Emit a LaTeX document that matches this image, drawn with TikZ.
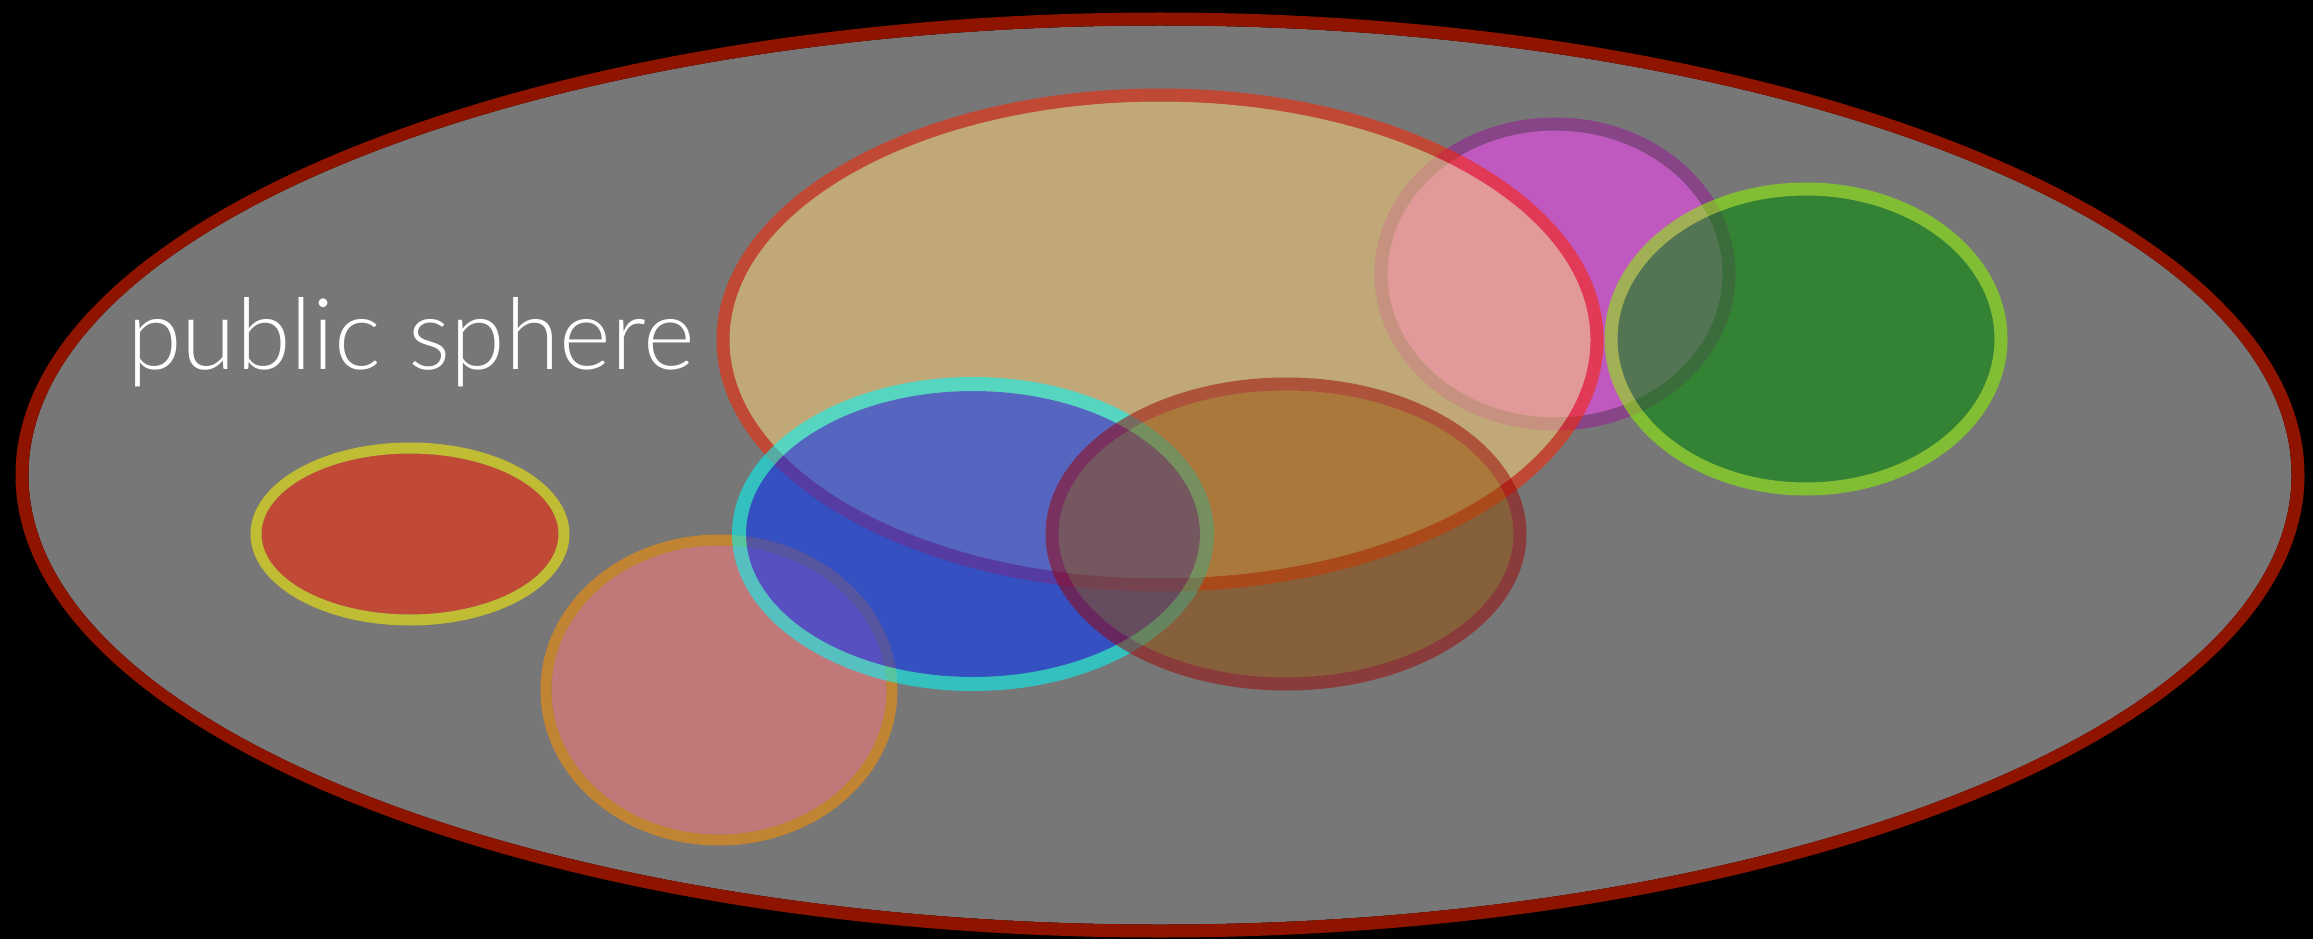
\documentclass[tikz,border=0pt]{standalone}
\usepackage{fontspec}
\setmainfont{Lato}
\newfontfamily\lightfont{Lato}[UprightFont={* Light}]
\definecolor{bgout}{HTML}{777777}
\definecolor{outerstroke}{HTML}{8E1400}
\definecolor{redfill}{HTML}{C04A35}
\definecolor{yellowstroke}{HTML}{C0BC34}
\definecolor{pinkfill}{HTML}{C07878}
\definecolor{orangestroke}{HTML}{C08432}
\definecolor{magfill}{HTML}{BF58BF}
\definecolor{magstroke}{HTML}{874587}
\definecolor{tanfill}{HTML}{FED279}
\definecolor{tanstroke}{HTML}{FF2200}
\definecolor{bluefill}{HTML}{0030FC}
\definecolor{bluestroke}{HTML}{00FCFC}
\definecolor{brownfill}{HTML}{954900}
\definecolor{brownstroke}{HTML}{9D0000}
\definecolor{greenfill}{HTML}{008C00}
\definecolor{greenstroke}{HTML}{8BF601}
% #1 centre, #2 rx, #3 ry, #4 line width, #5 fill, #6 stroke, #7 opacity
\newcommand\myblob[7]{%
  \fill[#5, opacity=#7] (#1) ellipse [x radius=#2-#4/2, y radius=#3-#4/2];
  \fill[#6, opacity=#7, even odd rule] (#1) ellipse [x radius=#2+#4/2, y radius=#3+#4/2]
        (#1) ellipse [x radius=#2-#4/2, y radius=#3-#4/2];
}
\begin{document}
\begin{tikzpicture}[x=1pt,y=-1pt,
  label text/.style={text=white, inner sep=0pt, anchor=base west, font=\lightfont\fontsize{99}{100}\selectfont}]
\useasboundingbox (0,0) rectangle (2313,939);
\fill[black] (0,0) rectangle (2313,939);
\coordinate (sphere) at (1160,475);
\coordinate (red) at (410,534);
\coordinate (pink) at (719,690);
\coordinate (mag) at (1555,274);
\coordinate (tan) at (1160,340);
\coordinate (blue) at (973,534);
\coordinate (brown) at (1286,534);
\coordinate (green) at (1806,339);
\myblob{sphere}{1138}{456}{13}{bgout}{outerstroke}{1}
\node[label text] (ps) at (127,369) {public sphere};
\myblob{red}{154}{86}{11}{redfill}{yellowstroke}{1}
\myblob{pink}{173}{150}{11}{pinkfill}{orangestroke}{1}
\myblob{mag}{174}{150}{13}{magfill}{magstroke}{1}
\myblob{tan}{437}{245}{13}{tanfill}{tanstroke}{0.54}
\myblob{blue}{234}{150}{14}{bluefill}{bluestroke}{0.55}
\myblob{brown}{234}{150}{13}{brownfill}{brownstroke}{0.5}
\myblob{green}{195}{150}{13}{greenfill}{greenstroke}{0.56}
\end{tikzpicture}
\end{document}
